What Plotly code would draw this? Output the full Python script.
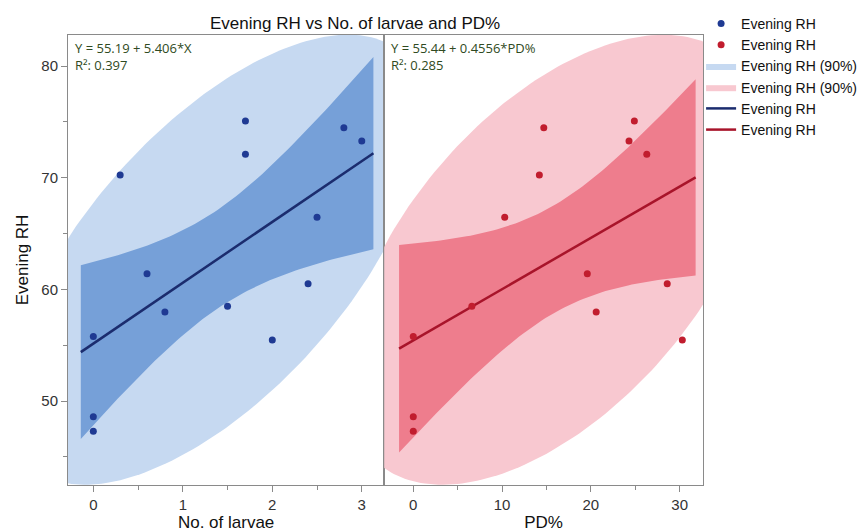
import numpy as np
import plotly.graph_objects as go
from plotly.subplots import make_subplots

# ---- data ----
evening_rh = [75.08, 74.48, 73.29, 72.1, 70.24, 66.45, 61.4, 60.5, 58.49, 57.98, 55.77, 55.47, 48.6, 47.3]
no_of_larvae = [1.7, 2.8, 3.0, 1.7, 0.3, 2.5, 0.6, 2.4, 1.5, 0.8, 0.0, 2.0, 0.0, 0.0]
pd_pct = [24.9, 14.7, 24.3, 26.3, 14.2, 10.3, 19.6, 28.6, 6.6, 20.6, 0.0, 30.3, 0.0, 0.0]

fit_range_larvae = [-0.14, 3.13]
fit_range_pd = [-1.6, 31.8]

eq_larvae = ["Y = 55.19 + 5.406*X", "R²: 0.397"]
eq_pd = ["Y = 55.44 + 0.4556*PD%", "R²: 0.285"]

title_text = "Evening RH vs No. of larvae and PD%"
y_title = "Evening RH"
x_titles = ["No. of larvae", "PD%"]
legend_names = ["Evening RH", "Evening RH", "Evening RH (90%)", "Evening RH (90%)", "Evening RH", "Evening RH"]

ellipse_level = 0.90
t_975_df12 = 2.179

# ---- colours ----
blue_pt, blue_line, blue_dark, blue_light = "#1f3a93", "#1b2c6e", "#76a0d8", "#c6d9f1"
red_pt, red_line, red_dark, red_light = "#c11d2e", "#a8142a", "#ee7d8d", "#f8c8d0"


def fit_stats(x, y, xr):
    x = np.asarray(x, float); y = np.asarray(y, float)
    n = len(x)
    b1, b0 = np.polyfit(x, y, 1)
    resid = y - (b0 + b1 * x)
    s = np.sqrt((resid ** 2).sum() / (n - 2))
    mx = x.mean(); sxx = ((x - mx) ** 2).sum()
    xs = np.linspace(xr[0], xr[1], 80)
    yh = b0 + b1 * xs
    half = t_975_df12 * s * np.sqrt(1.0 / n + (xs - mx) ** 2 / sxx)
    return xs, yh, yh - half, yh + half


def density_ellipse(x, y, level):
    x = np.asarray(x, float); y = np.asarray(y, float)
    cov = np.cov(x, y)
    L = np.linalg.cholesky(cov)
    c = np.sqrt(-2 * np.log(1 - level))
    th = np.linspace(0, 2 * np.pi, 240)
    pts = c * L @ np.vstack([np.cos(th), np.sin(th)])
    return x.mean() + pts[0], y.mean() + pts[1]


fig = make_subplots(rows=1, cols=2, shared_yaxes=True, horizontal_spacing=0)

panels = [
    (no_of_larvae, fit_range_larvae, blue_pt, blue_line, blue_dark, blue_light, 1),
    (pd_pct, fit_range_pd, red_pt, red_line, red_dark, red_light, 2),
]

for xv, xr, cpt, cline, cdark, clight, col in panels:
    ex, ey = density_ellipse(xv, evening_rh, ellipse_level)
    fig.add_trace(go.Scatter(x=ex, y=ey, mode="lines", fill="toself", fillcolor=clight,
                             line=dict(width=0, color=clight), name=legend_names[1 + col],
                             legendrank=2 + col, hoverinfo="skip"), row=1, col=col)

for xv, xr, cpt, cline, cdark, clight, col in panels:
    xs, yh, lo, hi = fit_stats(xv, evening_rh, xr)
    fig.add_trace(go.Scatter(x=np.concatenate([xs, xs[::-1]]), y=np.concatenate([hi, lo[::-1]]),
                             mode="lines", fill="toself", fillcolor=cdark,
                             line=dict(width=0, color=cdark), showlegend=False, hoverinfo="skip"),
                  row=1, col=col)
    fig.add_trace(go.Scatter(x=xs, y=yh, mode="lines", line=dict(color=cline, width=2.5),
                             name=legend_names[3 + col], legendrank=4 + col), row=1, col=col)

for xv, xr, cpt, cline, cdark, clight, col in panels:
    fig.add_trace(go.Scatter(x=xv, y=evening_rh, mode="markers",
                             marker=dict(color=cpt, size=7),
                             name=legend_names[col - 1], legendrank=col), row=1, col=col)

axis_col = "#8a8a8a"
font_fam = "Liberation Sans, Arial"
tickfont = dict(family=font_fam, size=15, color="#333333")
titlefont = dict(family=font_fam, size=17, color="#111")
common = dict(showline=True, linecolor=axis_col, linewidth=1, mirror=True, showgrid=False,
              zeroline=False, ticks="outside", tickcolor=axis_col, ticklen=6,
              tickfont=tickfont, automargin=False)

fig.update_xaxes(domain=[0, 0.498], range=[-0.283, 3.251], dtick=1, tick0=0,
                 minor=dict(ticks="outside", dtick=0.5, ticklen=4, tickcolor=axis_col),
                 title=dict(text=x_titles[0], font=titlefont, standoff=4),
                 row=1, col=1, **common)
fig.update_xaxes(domain=[0.498, 1], range=[-3.27, 32.63], dtick=10, tick0=0,
                 minor=dict(ticks="outside", dtick=5, ticklen=4, tickcolor=axis_col),
                 title=dict(text=x_titles[1], font=titlefont, standoff=4),
                 row=1, col=2, **common)
fig.update_yaxes(range=[42.48, 82.78], dtick=10, tick0=0,
                 minor=dict(ticks="outside", dtick=5, ticklen=4, tickcolor=axis_col),
                 title=dict(text=y_title, font=titlefont, standoff=8),
                 row=1, col=1, **common)
fig.update_yaxes(range=[42.48, 82.78], showline=True, linecolor=axis_col, mirror=True,
                 showticklabels=False, ticks="", showgrid=False, zeroline=False, row=1, col=2)

ann_font = dict(family="Open Sans, Noto Sans", size=13, color="#2f4a22")
for ref, eq in (("x", eq_larvae), ("x2", eq_pd)):
    fig.add_annotation(xref=ref + " domain", yref="y domain", x=0.015, y=0.995, xanchor="left",
                       yanchor="top", align="left", text=eq[0] + "<br>" + eq[1],
                       showarrow=False, font=ann_font)

fig.update_layout(
    width=857, height=524, template="none",
    margin=dict(l=60, r=162, t=27, b=47, autoexpand=False),
    paper_bgcolor="white", plot_bgcolor="white",
    title=dict(text=title_text, x=0.405, xanchor="center", xref="container", y=0.971,
               yref="container", yanchor="middle", font=titlefont),
    legend=dict(x=0.997, xanchor="left", y=1.06, yanchor="top", bgcolor="rgba(0,0,0,0)",
                font=dict(family=font_fam, size=14, color="#111"),
                tracegroupgap=0, itemwidth=30),
    showlegend=True,
)

fig.write_html("out.html")
